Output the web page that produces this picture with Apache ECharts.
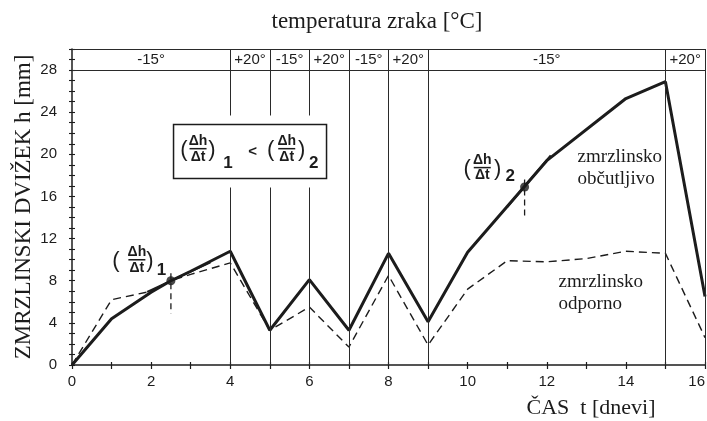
<!DOCTYPE html>
<html>
<head>
<meta charset="utf-8">
<script src="https://cdn.jsdelivr.net/npm/echarts@6/dist/echarts.min.js"></script>
<style>
  html, body { margin: 0; padding: 0; background: #fff; }
  #chart { width: 707px; height: 421px; }
</style>
</head>
<body>
<div id="chart"></div>
<script>
// Frost heave h [mm] over time t [days]
const tSensitive = [0, 1, 2, 2.5, 3, 4, 5, 6, 7, 8, 9, 10, 12, 14, 15, 16];
const hSensitive = [0, 4.4, 6.9, 8.0, 8.9, 10.8, 3.3, 8.1, 3.3, 10.6, 4.1, 10.7, 19.4, 25.3, 26.9, 6.5];

const tResistant = [0, 1, 2, 2.5, 3, 4, 5, 6, 7, 8, 9, 10, 11, 12, 13, 14, 15, 16];
const hResistant = [0, 6.2, 7.0, 8.0, 8.6, 9.7, 3.3, 5.5, 1.7, 8.5, 1.9, 7.2, 9.9, 9.8, 10.1, 10.8, 10.6, 2.6];

// Air temperature periods (day boundaries and temperature in each period)
const periodBounds = [0, 4, 5, 6, 7, 8, 9, 15, 16];
const periodTemps = ['-15°', '+20°', '-15°', '+20°', '-15°', '+20°', '-15°', '+20°'];

// Points where the heave rate (Δh/Δt) is read, with the tangent segments through them
const rateT = [2.5, 11.44];
const rateH = [8.0, 16.9];
const rateGuideTop = [8.7, 17.6];
const rateGuideBottom = [4.9, 13.9];
const tangentT = [[1.9, 3.5], [11.0, 12.1]];
const tangentH = [[6.95, 9.75], [15.0, 19.9]];

const xTickStep = 2;
const yTickStep = 4;
const yTop = 28;

const INK = '#1c1c1c';
const SANS = '"Liberation Sans", Arial, sans-serif';
const SERIF = '"Liberation Serif", "Times New Roman", serif';

const zip = (a, b) => a.map((v, i) => [v, b[i]]);

const chart = echarts.init(document.getElementById('chart'), null, { renderer: 'canvas' });

const axisCommon = {
  type: 'value',
  axisLine: { show: true, lineStyle: { color: INK, width: 1.5 } },
  splitLine: { show: false }
};

const option = {
  backgroundColor: '#fff',
  animation: false,
  grid: { left: 72, right: 2, top: 49, bottom: 56, containLabel: false, outerBoundsMode: 'none' },
  xAxis: [
    Object.assign({}, axisCommon, {
      min: 0, max: 16, interval: 1,
      axisTick: { show: true, length: 4, lineStyle: { color: INK, width: 1.2 } },
      axisLabel: {
        color: INK, fontFamily: SANS, fontSize: 15, margin: 9,
        alignMaxLabel: 'right',
        formatter: v => (v % xTickStep === 0 ? String(v) : '')
      }
    }),
    {
      type: 'value', min: 0, max: 16, interval: 1, position: 'bottom',
      axisLine: { show: false },
      axisTick: { show: true, inside: true, length: 3, lineStyle: { color: INK, width: 1.2 } },
      axisLabel: { show: false },
      splitLine: { show: false }
    }
  ],
  yAxis: [
    Object.assign({}, axisCommon, {
      min: 0, max: 30, interval: 1,
      axisTick: { show: true, length: 3, lineStyle: { color: INK, width: 1.1 } },
      axisLabel: {
        color: INK, fontFamily: SANS, fontSize: 15, margin: 15,
        formatter: v => (v % yTickStep === 0 && v <= yTop ? String(v) : '')
      }
    }),
    {
      type: 'value', min: 0, max: 30, interval: 1, position: 'left',
      axisLine: { show: false },
      axisTick: { show: true, inside: true, length: 3, lineStyle: { color: INK, width: 1.1 } },
      axisLabel: { show: false },
      splitLine: { show: false }
    }
  ],
  series: [
    {
      // period dividers and the temperature strip frame
      type: 'line', data: [], z: 1, silent: true,
      markLine: {
        symbol: 'none', silent: true, animation: false,
        label: { show: false },
        lineStyle: { color: '#2a2a2a', width: 1, type: 'solid' },
        data: periodBounds.slice(1).map(v => ({ xAxis: v }))
          .concat([{ yAxis: yTop }, { yAxis: 30 }])
      }
    },
    {
      name: 'zmrzlinsko odporno',
      type: 'line', data: zip(tResistant, hResistant), z: 3,
      symbol: 'none',
      lineStyle: { color: INK, width: 1.4, type: [8, 5] }
    },
    {
      name: 'zmrzlinsko občutljivo',
      type: 'line', data: zip(tSensitive, hSensitive), z: 4,
      symbol: 'none',
      lineStyle: { color: INK, width: 3 }
    }
  ].concat(tangentT.map((ts, i) => ({
    type: 'line', z: 5, symbol: 'none',
    data: zip(ts, tangentH[i]),
    lineStyle: { color: INK, width: 2 }
  }))).concat(rateT.map((t, i) => ({
    type: 'line', z: 3, symbol: 'none',
    data: [[t, rateGuideTop[i]], [t, rateGuideBottom[i]]],
    lineStyle: { color: INK, width: 1.3, type: [6, 4] }
  }))).concat([{
    type: 'scatter', z: 6,
    data: zip(rateT, rateH),
    symbol: 'circle', symbolSize: 9,
    itemStyle: { color: INK }
  }])
};

chart.setOption(option);

const px = (t, h) => chart.convertToPixel({ gridIndex: 0 }, [t, h]);

function txt(text, x, y, font, align, vAlign) {
  return {
    type: 'text', z: 20,
    style: {
      text: text, x: x, y: y, font: font, fill: INK,
      align: align || 'center', textAlign: align || 'center',
      verticalAlign: vAlign || 'middle', textVerticalAlign: vAlign || 'middle'
    }
  };
}

// (Δh/Δt)_n drawn as a stacked fraction in parentheses
function rateLabel(cx, cy, sub, leftGap, rightGap, subDx, subDy) {
  const f = 'bold 14px ' + SANS;
  return [
    txt('(', cx - leftGap, cy + 1, '22px ' + SANS),
    txt('Δh', cx, cy - 7.5, f),
    txt('Δt', cx, cy + 8, f),
    { type: 'line', z: 20, shape: { x1: cx - 8.5, y1: cy, x2: cx + 8.5, y2: cy },
      style: { stroke: INK, lineWidth: 1.5 } },
    txt(')', cx + rightGap, cy + 1, '22px ' + SANS),
    txt(sub, cx + subDx, cy + subDy, 'bold 17px ' + SANS)
  ];
}

const graphics = [];

// titles
graphics.push(txt('temperatura zraka [°C]', 377, 22, '23px ' + SERIF));
graphics.push(txt('ČAS  t [dnevi]', 591, 408, '22px ' + SERIF));
const yTitle = txt('ZMRZLINSKI DVIŽEK h [mm]', 0, 0, '23px ' + SERIF);
yTitle.x = 24;
yTitle.y = 207;
yTitle.rotation = Math.PI / 2;
graphics.push(yTitle);

// temperature labels in the strip
periodTemps.forEach((label, i) => {
  const p = px((periodBounds[i] + periodBounds[i + 1]) / 2, (yTop + 30) / 2);
  graphics.push(txt(label, p[0], p[1], '15px ' + SANS));
});

// comparison box
const bc = px(4.5, 20.28);
graphics.push({ type: 'rect', z: 15, shape: { x: bc[0] - 78, y: bc[1] - 36, width: 156, height: 72 },
  style: { fill: '#fff', stroke: null } });
graphics.push({ type: 'rect', z: 16, shape: { x: bc[0] - 76.5, y: bc[1] - 27, width: 153, height: 54 },
  style: { fill: '#fff', stroke: INK, lineWidth: 1.5 } });
rateLabel(bc[0] - 52, bc[1] - 2.7, '1', 14, 14, 30, 15).forEach(g => graphics.push(g));
graphics.push(txt('<', bc[0] + 2.5, bc[1] + 0.5, 'bold 15px ' + SANS));
rateLabel(bc[0] + 36.7, bc[1] - 2.7, '2', 16, 15, 27, 15).forEach(g => graphics.push(g));

// rate labels beside the marked points
const r1 = px(1.64, 9.99);
rateLabel(r1[0], r1[1], '1', 21, 13, 24.5, 11).forEach(g => graphics.push(g));
const r2 = px(10.37, 18.74);
rateLabel(r2[0], r2[1], '2', 15, 15.5, 28, 9).forEach(g => graphics.push(g));

// curve descriptions
const s1 = px(12.78, 19.73);
graphics.push(txt('zmrzlinsko', s1[0], s1[1], '19px ' + SERIF, 'left'));
graphics.push(txt('občutljivo', s1[0], s1[1] + 22, '19px ' + SERIF, 'left'));
const s2 = px(12.3, 7.9);
graphics.push(txt('zmrzlinsko', s2[0], s2[1], '19px ' + SERIF, 'left'));
graphics.push(txt('odporno', s2[0], s2[1] + 22, '19px ' + SERIF, 'left'));

chart.setOption({ graphic: { elements: graphics } });
</script>
</body>
</html>
